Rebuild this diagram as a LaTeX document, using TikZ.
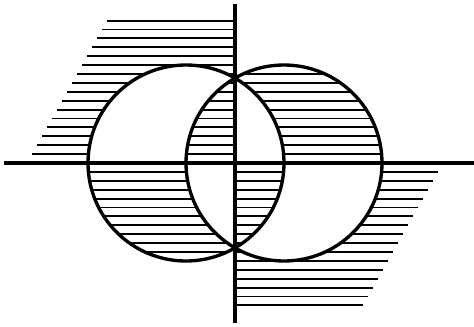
\documentclass[tikz,border=0pt]{standalone}
\begin{document}
\begin{tikzpicture}[x=1mm, y=1mm]
  \tikzset{achse/.style={line width=1.1pt},
           kreis/.style={line width=0.95pt},
           schraff/.style={line width=0.55pt}}
  \def\rad{9.8}
  \def\abst{0.89}

  \useasboundingbox (-23.5,-16.3) rectangle (23.9,16.3);

  \coordinate (O) at (0,0);
  \coordinate (L) at (-4.9,0);
  \coordinate (R) at (4.9,0);

  % Schraffur oben links
  \begin{scope}[even odd rule]
    \clip (-23,0) rectangle (0,16) (L) circle (\rad) (R) circle (\rad);
    \foreach \k in {1,...,16} {
        \draw[schraff] ({-20.8+0.564*\k*\abst},\k*\abst) -- (0,\k*\abst);
      }
  \end{scope}

  % Schraffur oben rechts
  \begin{scope}[even odd rule]
    \clip (0,0) rectangle (16,12);
    \clip (L) circle (\rad) (R) circle (\rad);
    \foreach \k in {1,...,11} {
        \draw[schraff] (0,\k*\abst) -- (16,\k*\abst);
      }
  \end{scope}

  % Schraffur unten links
  \begin{scope}[even odd rule]
    \clip (-16,0) rectangle (0,-12);
    \clip (L) circle (\rad) (R) circle (\rad);
    \foreach \k in {1,...,11} {
        \draw[schraff] (-16,-\k*\abst) -- (0,-\k*\abst);
      }
  \end{scope}

  % Schraffur unten rechts
  \begin{scope}[even odd rule]
    \clip (0,0) rectangle (23,-16) (L) circle (\rad) (R) circle (\rad);
    \foreach \k in {1,...,16} {
        \draw[schraff] (0,-\k*\abst) -- ({20.8-0.564*\k*\abst},-\k*\abst);
      }
  \end{scope}

  % Kreise
  \draw[kreis] (L) circle (\rad);
  \draw[kreis] (R) circle (\rad);

  % Achsen
  \draw[achse] (-23.1,0) -- (23.9,0);
  \draw[achse] (0,15.9) -- (0,-16.0);

\end{tikzpicture}
\end{document}
